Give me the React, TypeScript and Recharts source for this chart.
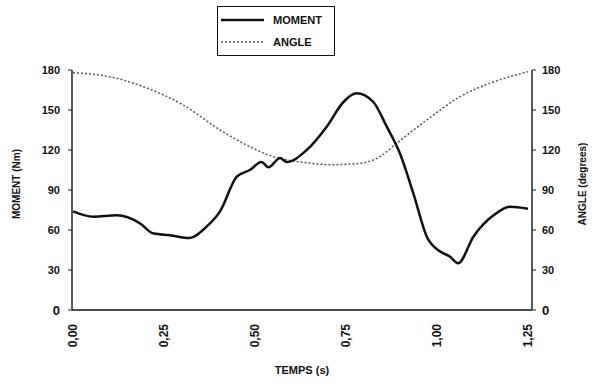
import React from "react";
import {
  LineChart,
  Line,
  XAxis,
  YAxis,
} from "recharts";

// temps (s) et valeurs
const momentTime = [0, 0.056, 0.12, 0.184, 0.22, 0.267, 0.32, 0.367, 0.404, 0.45, 0.486, 0.518, 0.537, 0.569, 0.587, 0.642, 0.697, 0.743, 0.779, 0.825, 0.862, 0.898, 0.935, 0.972, 1.008, 1.036, 1.058, 1.1, 1.155, 1.2, 1.25];
const momentValues = [74, 70, 71, 65, 57.5, 56, 54, 62.5, 74, 100, 105, 111, 107, 114, 111, 120, 137.5, 156, 162.5, 156, 137.5, 117.5, 87.5, 55, 44, 40, 35, 55, 71, 77.5, 76];

const angleTime = [0, 0.1, 0.193, 0.303, 0.404, 0.477, 0.55, 0.624, 0.715, 0.788, 0.843, 0.889, 0.972, 1.063, 1.155, 1.25];
const angleValues = [178, 175, 167.5, 153.7, 135, 123.7, 115, 111, 109, 110, 115, 125, 142.5, 160, 171, 178.7];

const timeTicks = [0, 0.25, 0.5, 0.75, 1, 1.25];
const valueTicks = [0, 30, 60, 90, 120, 150, 180];

const momentData = momentTime.map((t, i) => ({ t, moment: momentValues[i] }));
const angleData = angleTime.map((t, i) => ({ t, angle: angleValues[i] }));

const FONT = "'Liberation Sans Narrow', 'Liberation Sans', Arial, sans-serif";

const fmt = (v: number) => v.toFixed(2).replace(".", ",");

const TimeTick = ({ x, y, payload }: any) => (
  <text
    x={x}
    y={y}
    transform={`rotate(-90 ${x} ${y})`}
    textAnchor="end"
    dominantBaseline="central"
    fontSize={12}
    fontWeight="bold"
    fontFamily={FONT}
    fill="#111"
  >
    {fmt(payload.value)}
  </text>
);

const ValueTick = ({ x, y, payload, side }: any) => {
  const zero = payload.value === 0;
  return (
    <text
      x={x}
      y={y}
      textAnchor={side === "left" ? "end" : "start"}
      dominantBaseline="central"
      fontSize={zero ? 13 : 11}
      fontWeight="bold"
      fontFamily={zero ? "'Liberation Sans', Arial, sans-serif" : FONT}
      fill="#111"
    >
      {payload.value}
    </text>
  );
};

const SideLabel = ({ viewBox, value, side }: any) => {
  const cx = side === "left" ? viewBox.x + 8 : viewBox.x + viewBox.width - 6;
  const cy = viewBox.y + viewBox.height / 2 - 6;
  return (
    <text
      x={cx}
      y={cy}
      transform={`rotate(-90 ${cx} ${cy})`}
      textAnchor="middle"
      dominantBaseline="central"
      fontSize={10}
      fontWeight="bold"
      fontFamily={FONT}
      fill="#111"
    >
      {value}
    </text>
  );
};

const LegendBox = () => (
  <div
    style={{
      position: "absolute",
      left: 217,
      top: 6,
      width: 116,
      border: "1.5px solid #111",
      background: "#fff",
      padding: "2px 0",
      fontFamily: FONT,
      fontWeight: "bold",
      fontSize: 11,
      color: "#111",
    }}
  >
    <div style={{ display: "flex", alignItems: "center", height: 22 }}>
      <svg width={55} height={6}>
        <line x1={3} y1={3} x2={46} y2={3} stroke="#111" strokeWidth={2.5} />
      </svg>
      <span>MOMENT</span>
    </div>
    <div style={{ display: "flex", alignItems: "center", height: 22 }}>
      <svg width={55} height={6}>
        <line x1={3} y1={3} x2={46} y2={3} stroke="#555" strokeWidth={1.5} strokeDasharray="2 2" />
      </svg>
      <span>ANGLE</span>
    </div>
  </div>
);

export default function App() {
  return (
    <div style={{ position: "absolute", left: 0, top: 0, width: 596, height: 384, background: "#fff" }}>
      <LineChart
        width={596}
        height={384}
        margin={{ top: 70, right: 8, bottom: 0, left: 8 }}
      >
        <XAxis
          dataKey="t"
          type="number"
          domain={[0, 1.25]}
          ticks={timeTicks}
          tick={<TimeTick />}
          tickLine={false}
          axisLine={{ stroke: "#111", strokeWidth: 1.5 }}
          tickMargin={8}
          height={74}
          padding={{ left: 1, right: 4 }}
          allowDuplicatedCategory={false}
          label={{
            value: "TEMPS (s)",
            position: "insideBottom",
            offset: 10,
            fontSize: 11,
            fontWeight: "bold",
            fontFamily: FONT,
            fill: "#111",
          }}
        />
        <YAxis
          yAxisId="left"
          orientation="left"
          domain={[0, 180]}
          ticks={valueTicks}
          width={64}
          tickSize={4}
          tickMargin={8}
          tick={<ValueTick side="left" />}
          axisLine={{ stroke: "#222", strokeWidth: 1.5 }}
          tickLine={{ stroke: "#222" }}
          label={<SideLabel value="MOMENT (Nm)" side="left" />}
        />
        <YAxis
          yAxisId="right"
          orientation="right"
          domain={[0, 180]}
          ticks={valueTicks}
          width={56}
          tickSize={4}
          tickMargin={6}
          tick={<ValueTick side="right" />}
          axisLine={{ stroke: "#222", strokeWidth: 1.5 }}
          tickLine={{ stroke: "#222" }}
          label={<SideLabel value="ANGLE (degrees)" side="right" />}
        />
        <Line
          yAxisId="right"
          data={angleData}
          dataKey="angle"
          type="monotone"
          stroke="#555"
          strokeWidth={1.5}
          strokeDasharray="2 2"
          dot={false}
          isAnimationActive={false}
        />
        <Line
          yAxisId="left"
          data={momentData}
          dataKey="moment"
          type="monotone"
          stroke="#111"
          strokeWidth={2.5}
          strokeLinejoin="round"
          dot={false}
          isAnimationActive={false}
        />
      </LineChart>
      <LegendBox />
    </div>
  );
}
